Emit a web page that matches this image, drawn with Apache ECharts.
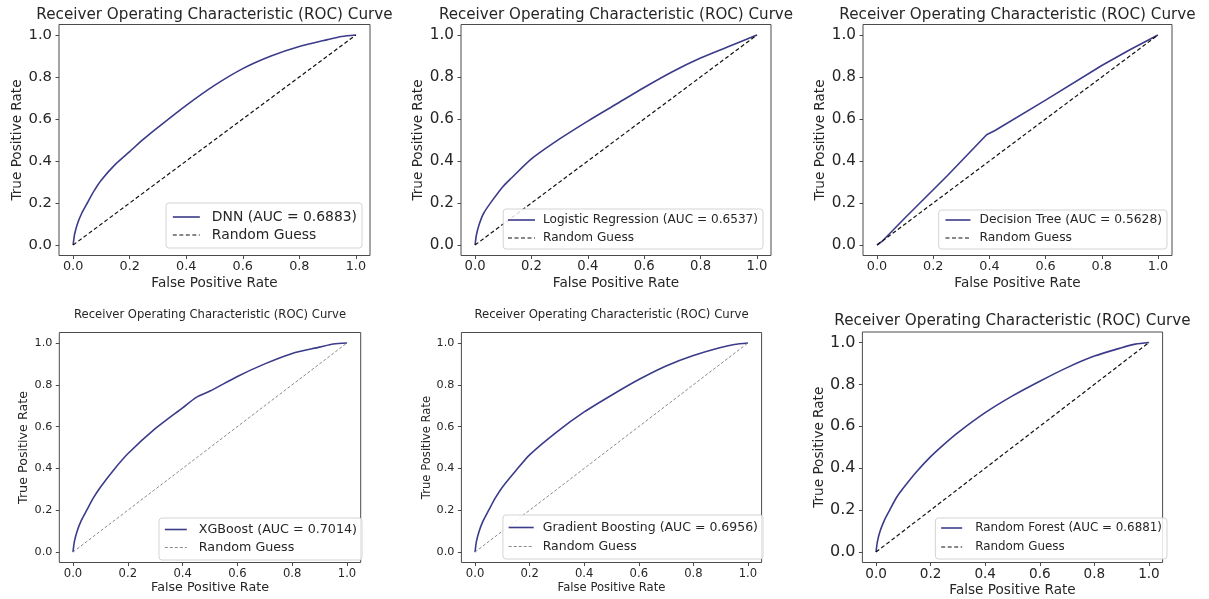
<!DOCTYPE html>
<html>
<head>
<meta charset="utf-8">
<script src="https://cdn.jsdelivr.net/npm/echarts@6/dist/echarts.min.js"></script>
<style>
  html, body { margin: 0; padding: 0; background: #ffffff; }
  #chart { width: 1209px; height: 599px; }
</style>
</head>
<body>
<div id="chart"></div>
<script>
// ---- data -------------------------------------------------------------
const modelNames = ['DNN', 'Logistic Regression', 'Decision Tree', 'XGBoost', 'Gradient Boosting', 'Random Forest'];
const aucValues = ['0.6883', '0.6537', '0.5628', '0.7014', '0.6956', '0.6881'];
const tickValues = [0, 0.2, 0.4, 0.6, 0.8, 1.0];
const diagonal = [0, 1];

const dnnFpr = [0, 0.005, 0.015, 0.03, 0.05, 0.075, 0.1, 0.15, 0.2, 0.25, 0.3, 0.4, 0.5, 0.6, 0.7, 0.8, 0.9, 0.95, 1];
const dnnTpr = [0, 0.05, 0.1, 0.15, 0.2, 0.26, 0.31, 0.385, 0.445, 0.505, 0.56, 0.665, 0.76, 0.84, 0.9, 0.945, 0.978, 0.993, 1];

const logregFpr = [0, 0.005, 0.015, 0.03, 0.06, 0.1, 0.13, 0.2, 0.3, 0.4, 0.5, 0.6, 0.7, 0.8, 0.9, 1];
const logregTpr = [0, 0.05, 0.1, 0.15, 0.21, 0.28, 0.32, 0.41, 0.505, 0.59, 0.67, 0.75, 0.825, 0.89, 0.945, 1];

const treeFpr = [0, 0.02, 0.1, 0.25, 0.39, 0.42, 0.6, 0.8, 0.9, 1];
const treeTpr = [0, 0.02, 0.13, 0.33, 0.525, 0.545, 0.69, 0.855, 0.93, 1];

const xgbFpr = [0, 0.005, 0.015, 0.03, 0.05, 0.075, 0.1, 0.15, 0.2, 0.3, 0.4, 0.45, 0.5, 0.6, 0.7, 0.8, 0.9, 0.95, 1];
const xgbTpr = [0, 0.05, 0.1, 0.15, 0.2, 0.26, 0.31, 0.395, 0.47, 0.59, 0.69, 0.74, 0.77, 0.84, 0.9, 0.95, 0.98, 0.995, 1];

const gbFpr = [0, 0.005, 0.015, 0.03, 0.05, 0.075, 0.1, 0.15, 0.2, 0.3, 0.4, 0.5, 0.6, 0.7, 0.8, 0.9, 0.95, 1];
const gbTpr = [0, 0.05, 0.1, 0.15, 0.2, 0.26, 0.31, 0.39, 0.465, 0.575, 0.67, 0.75, 0.825, 0.89, 0.94, 0.978, 0.993, 1];

const rfFpr = [0, 0.005, 0.015, 0.03, 0.05, 0.075, 0.1, 0.15, 0.2, 0.25, 0.3, 0.4, 0.5, 0.6, 0.7, 0.8, 0.9, 0.95, 1];
const rfTpr = [0, 0.05, 0.1, 0.15, 0.2, 0.26, 0.305, 0.385, 0.455, 0.515, 0.57, 0.665, 0.745, 0.815, 0.88, 0.935, 0.975, 0.992, 1];

const curves = [
  [dnnFpr, dnnTpr], [logregFpr, logregTpr], [treeFpr, treeTpr],
  [xgbFpr, xgbTpr], [gbFpr, gbTpr], [rfFpr, rfTpr]
];

// ---- layout & style for the 2x3 panel grid ----------------------------
const FONT = 'DejaVu Sans';
const ROC_COLOR = '#3b3b8a';
const TEXT = '#262626';
const FRAME = '#4a4a4a';
const HIDDEN = 'rgba(0,0,0,0)';

const panels = [
  { grid: [59, 24.5, 311, 231], title: { top: 8, size: 15.2 }, xt: 12.8, yt: 14.8, nameSize: 13.6, xGap: 21, yGap: 34,
    smooth: true, guess: { color: '#111', width: 1.2, dash: [4, 2.5] },
    legend: { right: 847, top: 203, iw: 27, ih: 14, gap: 4, extra: 7, size: 13.9, pad: [7, 5, 6, 6] } },
  { grid: [461, 24.5, 310, 231], title: { top: 8, size: 15.1 }, xt: 13.2, yt: 15.2, nameSize: 13.6, xGap: 21, yGap: 36,
    smooth: true, guess: { color: '#111', width: 1.2, dash: [4, 2.5] },
    legend: { right: 446, top: 209, iw: 27, ih: 12, gap: 6, extra: 3, size: 12.1, pad: [5, 5, 5, 4] } },
  { grid: [863, 24.5, 309, 231], title: { top: 8, size: 15.2 }, xt: 12.8, yt: 15.2, nameSize: 13.6, xGap: 21, yGap: 36,
    smooth: false, guess: { color: '#111', width: 1.2, dash: [4, 2.5] },
    legend: { right: 42, top: 210, iw: 25, ih: 12, gap: 6, extra: 4, size: 12.3, pad: [4, 5, 5, 6] } },
  { grid: [59.3, 332.5, 301.4, 230], title: { top: 309, size: 11.6 }, xt: 11.6, yt: 11.2, nameSize: 12.7, xGap: 18.5, yGap: 27,
    smooth: true, guess: { color: '#8a8a8a', width: 1, dash: [3, 2] },
    legend: { right: 847, top: 518, iw: 22, ih: 12, gap: 5, extra: 7, size: 12.7, pad: [5, 5, 6, 5] } },
  { grid: [461.4, 332.5, 300.2, 230], title: { top: 309, size: 11.7 }, xt: 11.6, yt: 11.2, nameSize: 11.6, xGap: 19, yGap: 28,
    smooth: true, guess: { color: '#8a8a8a', width: 1, dash: [3, 2] },
    legend: { right: 446, top: 515, iw: 25, ih: 12, gap: 6, extra: 4, size: 12.5, pad: [6, 5, 6, 5] } },
  { grid: [862.4, 332, 300.2, 230.5], title: { top: 314, size: 15.2 }, xt: 13.6, yt: 16, nameSize: 13.6, xGap: 20.5, yGap: 35,
    smooth: true, guess: { color: '#111', width: 1.2, dash: [4, 2.5] },
    legend: { right: 42, top: 518, iw: 21, ih: 12, gap: 7, extra: 8, size: 11.9, pad: [4, 5, 6, 5] } }
];

const grids = [], xAxes = [], yAxes = [], titles = [], legends = [], series = [];
const fmt = v => v.toFixed(1);

panels.forEach((p, i) => {
  const [gl, gt, gw, gh] = p.grid;
  grids.push({ left: gl, top: gt, width: gw, height: gh, show: true, borderColor: FRAME, borderWidth: 1, backgroundColor: 'transparent' });

  const axisCommon = (fontSize, margin) => ({
    type: 'value', min: -0.05, max: 1.05,
    axisLine: { show: false, onZero: false },
    splitLine: { show: false },
    axisTick: { show: true, customValues: tickValues, length: 3.5, lineStyle: { color: FRAME, width: 1 } },
    axisLabel: { customValues: tickValues, formatter: fmt, fontSize, color: TEXT, fontFamily: FONT, margin },
    nameLocation: 'middle',
    nameTextStyle: { fontSize: p.nameSize, color: TEXT, fontFamily: FONT }
  });

  xAxes.push(Object.assign(axisCommon(p.xt, 5), { gridIndex: i, name: 'False Positive Rate', nameGap: p.xGap }));
  yAxes.push(Object.assign(axisCommon(p.yt, 7), { gridIndex: i, name: 'True Positive Rate', nameGap: p.yGap }));

  titles.push({
    text: 'Receiver Operating Characteristic (ROC) Curve',
    left: gl + gw / 2, top: p.title.top, textAlign: 'center', padding: 0,
    textStyle: { fontSize: p.title.size, fontWeight: 'normal', color: TEXT, fontFamily: FONT }
  });

  const rocName = modelNames[i] + ' (AUC = ' + aucValues[i] + ')';
  const [fpr, tpr] = curves[i];

  series.push({
    type: 'line', name: rocName, xAxisIndex: i, yAxisIndex: i,
    data: fpr.map((x, j) => [x, tpr[j]]),
    symbol: 'none', showSymbol: false,
    smooth: p.smooth ? 0.25 : false,
    lineStyle: { color: ROC_COLOR, width: 1.6 }, itemStyle: { color: ROC_COLOR },
    z: 2
  });
  series.push({
    type: 'line', name: 'Random Guess', xAxisIndex: i, yAxisIndex: i,
    data: diagonal.map(v => [v, v]),
    symbol: 'none', showSymbol: false,
    lineStyle: { color: p.guess.color, width: p.guess.width, type: p.guess.dash },
    itemStyle: { color: p.guess.color },
    z: 3
  });

  // legend entries show only the line sample (no marker)
  const L = p.legend;
  legends.push({
    orient: 'vertical', right: L.right, top: L.top,
    itemWidth: L.iw, itemHeight: L.ih, itemGap: L.gap,
    padding: L.pad, borderColor: '#d4d4d4', borderWidth: 1, borderRadius: 3,
    backgroundColor: 'rgba(255,255,255,0.85)', selectedMode: false,
    textStyle: { fontSize: L.size, color: TEXT, fontFamily: FONT, padding: [0, 0, 0, L.extra] },
    data: [
      { name: rocName, itemStyle: { color: HIDDEN, borderColor: HIDDEN, borderWidth: 0, opacity: 0 },
        lineStyle: { color: ROC_COLOR, width: 1.6, type: 'solid', opacity: 1 } },
      { name: 'Random Guess', itemStyle: { color: HIDDEN, borderColor: HIDDEN, borderWidth: 0, opacity: 0 },
        lineStyle: { color: p.guess.color, width: p.guess.width, type: p.guess.dash, opacity: 1 } }
    ]
  });
});

const chart = echarts.init(document.getElementById('chart'), null, { renderer: 'canvas' });
chart.setOption({
  animation: false,
  backgroundColor: '#ffffff',
  title: titles,
  legend: legends,
  grid: grids,
  xAxis: xAxes,
  yAxis: yAxes,
  series: series
});
</script>
</body>
</html>
